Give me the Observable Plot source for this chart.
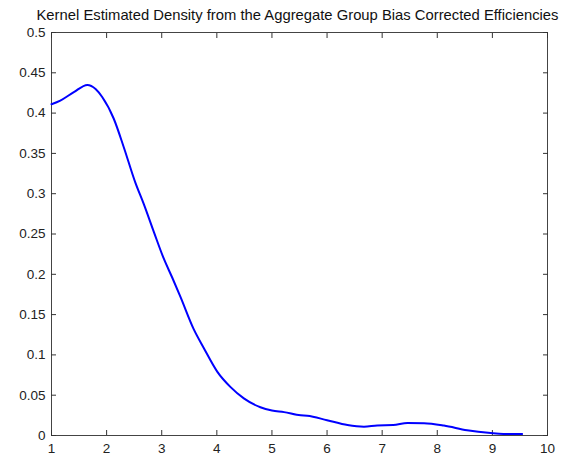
<!DOCTYPE html>
<html>
<head>
<meta charset="utf-8">
<script src="https://cdn.jsdelivr.net/npm/d3@7"></script>
<script src="https://cdn.jsdelivr.net/npm/@observablehq/plot@0.6"></script>
<style>
  html, body { margin: 0; padding: 0; background: #fff; }
  #wrap { position: relative; width: 579px; padding-top: 20px; }
  #title { position: absolute; top: 7px; left: 0; width: 579px; text-align: center; font: 14.8px "Liberation Sans", Arial, sans-serif; color: #111; line-height: 16px; padding-left: 16px; box-sizing: border-box; white-space: nowrap; }
  #chart svg { display: block; }
</style>
</head>
<body>
<div id="wrap">
<div id="title">Kernel Estimated Density from the Aggregate Group Bias Corrected Efficiencies</div>
<div id="chart"></div>
</div>
<script>
const xs = [1.0, 1.16, 1.405, 1.65, 1.8, 1.92, 2.13, 2.31, 2.52, 2.675, 2.86, 3.04, 3.19, 3.34, 3.58, 3.76, 4.01, 4.25, 4.49, 4.79, 5.0, 5.22, 5.52, 5.64, 6.0, 6.37, 6.67, 6.91, 7.2, 7.46, 7.76, 8.12, 8.54, 8.97, 9.2, 9.54];
const ys = [0.411, 0.4155, 0.426, 0.435, 0.430, 0.420, 0.393, 0.358, 0.314, 0.287, 0.252, 0.219, 0.196, 0.172, 0.132, 0.109, 0.079, 0.060, 0.046, 0.035, 0.031, 0.029, 0.025, 0.0245, 0.019, 0.013, 0.011, 0.0125, 0.013, 0.0155, 0.0153, 0.0124, 0.0065, 0.003, 0.002, 0.002];
const xTicks = [1, 2, 3, 4, 5, 6, 7, 8, 9, 10];
const yTicks = [0, 0.05, 0.1, 0.15, 0.2, 0.25, 0.3, 0.35, 0.4, 0.45, 0.5];

const data = xs.map((x, i) => ({x, y: ys[i]}));
const fmtY = d => d === 0 ? "0" : String(d);

const chart = Plot.plot({
  width: 579,
  height: 439,
  marginLeft: 51,
  marginRight: 32,
  marginTop: 12,
  marginBottom: 24,
  style: {fontFamily: '"Liberation Sans", Arial, sans-serif', fontSize: "13px", color: "#222", background: "#fff"},
  x: {domain: [1, 10]},
  y: {domain: [0, 0.5]},
  marks: [
    Plot.frame({stroke: "#444", strokeWidth: 1}),
    Plot.axisX(xTicks, {anchor: "bottom", tickSize: 0, tickPadding: 8, label: null, fontSize: 13.5}),
    Plot.axisY(yTicks, {anchor: "left", tickSize: 0, tickPadding: 6, label: null, tickFormat: fmtY, fontSize: 13.5}),
    Plot.axisX(xTicks, {anchor: "bottom", tickSize: 5, dy: -5, text: null, label: null, stroke: "#333"}),
    Plot.axisX(xTicks, {anchor: "top", tickSize: 5, dy: 5, text: null, label: null, stroke: "#333"}),
    Plot.axisY(yTicks, {anchor: "left", tickSize: 5, dx: 5, text: null, label: null, stroke: "#333"}),
    Plot.axisY(yTicks, {anchor: "right", tickSize: 5, dx: -5, text: null, label: null, stroke: "#333"}),
    Plot.line(data, {x: "x", y: "y", stroke: "#0000ff", strokeWidth: 2, curve: "monotone-x"})
  ]
});
document.getElementById("chart").appendChild(chart);
</script>
</body>
</html>
